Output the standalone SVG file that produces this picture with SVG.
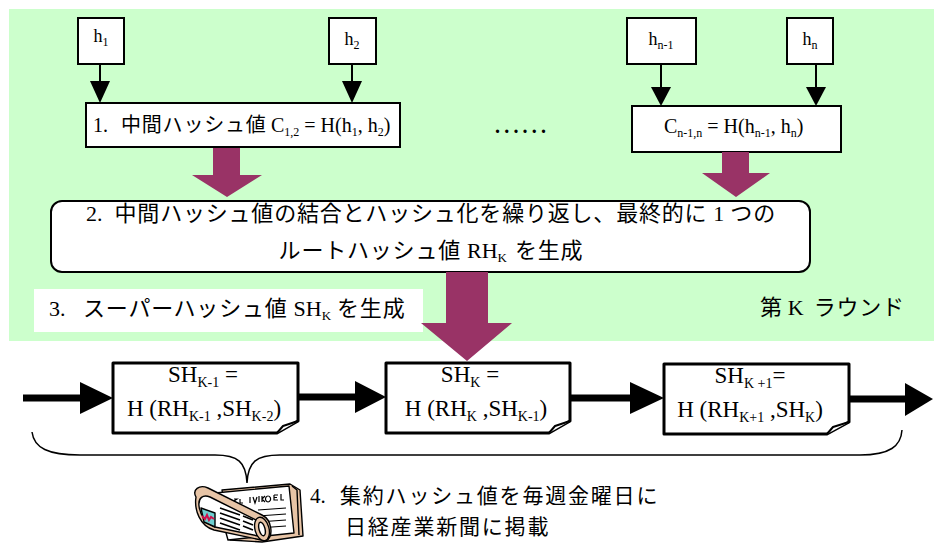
<svg xmlns="http://www.w3.org/2000/svg" width="934" height="544" viewBox="0 0 934 544">
  <defs>
    <style>
      text { font-family: "Liberation Serif", "Times New Roman", serif; fill: #000; }
      .jp { font-family: "Noto Sans CJK JP", "Noto Sans CJK SC", sans-serif; letter-spacing: 0.8px; }
      .jpw { letter-spacing: 1.8px; }
      .t18 { font-size: 18px; }
      .t20 { font-size: 20px; }
      .t21 { font-size: 21px; }
      .t22 { font-size: 22px; }
      .t23 { font-size: 23px; }
      .s12 { font-size: 12px; }
      .s13 { font-size: 13px; }
      .s14 { font-size: 14px; }
      .box { fill: #fff; stroke: #000; stroke-width: 2; }
      .page { fill: #fff; stroke: #000; stroke-width: 3; stroke-linejoin: round; }
      .fold { fill: #fff; stroke: #000; stroke-width: 2; stroke-linejoin: round; }
      .thin { stroke: #000; stroke-width: 2; fill: none; }
      .thick { stroke: #000; stroke-width: 7; fill: none; }
      .head { fill: #000; }
      .big { fill: #993366; }
      .nb { stroke: #000; stroke-width: 1.4; stroke-linejoin: round; }
    </style>
  </defs>

  <!-- round K background -->
  <rect x="9" y="9" width="925" height="332" fill="#ccffcc"/>

  <!-- leaf hashes -->
  <g id="h1">
    <rect class="box" x="78" y="18" width="46" height="46"/>
    <text class="t18" x="101" y="42" text-anchor="middle">h<tspan class="s12" dy="4">1</tspan></text>
  </g>
  <g id="h2">
    <rect class="box" x="329" y="18" width="47" height="46"/>
    <text class="t18" x="352" y="45" text-anchor="middle">h<tspan class="s12" dy="4">2</tspan></text>
  </g>
  <g id="hn1">
    <rect class="box" x="627" y="18" width="69" height="46"/>
    <text class="t18" x="661" y="45" text-anchor="middle">h<tspan class="s12" dy="4">n-1</tspan></text>
  </g>
  <g id="hn">
    <rect class="box" x="787" y="18" width="46" height="46"/>
    <text class="t18" x="810" y="45" text-anchor="middle">h<tspan class="s12" dy="4">n</tspan></text>
  </g>

  <!-- intermediate hashes -->
  <g id="c12">
    <rect class="box" x="86" y="103" width="314" height="44"/>
    <text class="t20" x="93" y="132">1.<tspan class="jp" x="121">中間ハッシュ値</tspan><tspan x="271">C</tspan><tspan class="s12" dy="4">1,2</tspan><tspan dy="-4"> = H(h</tspan><tspan class="s12" dy="4">1</tspan><tspan dy="-4">, h</tspan><tspan class="s12" dy="4">2</tspan><tspan dy="-4">)</tspan></text>
  </g>
  <g id="dots">
    <text class="t20" x="495" y="133" font-weight="bold" letter-spacing="4.2">......</text>
  </g>
  <g id="cn">
    <rect class="box" x="632" y="106" width="209" height="46"/>
    <text class="t20" x="664" y="133">C<tspan class="s12" dy="4">n-1,n</tspan><tspan dy="-4"> = H(h</tspan><tspan class="s12" dy="4">n-1</tspan><tspan dy="-4">, h</tspan><tspan class="s12" dy="4">n</tspan><tspan dy="-4">)</tspan></text>
  </g>

  <!-- root hash step -->
  <g id="root">
    <rect class="box" x="51" y="201" width="759" height="71" rx="11" ry="11"/>
    <text class="t22" x="431" y="221" text-anchor="middle">2.<tspan class="jp" dx="12">中間ハッシュ値の結合とハッシュ化を繰り返し、最終的に</tspan><tspan dx="6">1</tspan><tspan class="jp" dx="6">つの</tspan></text>
    <text class="t22" x="431" y="258" text-anchor="middle"><tspan class="jp">ルートハッシュ値</tspan><tspan dx="6">RH</tspan><tspan class="s13" dy="4">K</tspan><tspan class="jp" dy="-4" dx="8">を生成</tspan></text>
  </g>

  <!-- super hash label -->
  <g id="label3">
    <rect x="34" y="289" width="389" height="43" fill="#fff"/>
    <text class="t22" x="49" y="316">3.<tspan class="jp" x="83">スーパーハッシュ値</tspan><tspan dx="6">SH</tspan><tspan class="s13" dy="4">K</tspan><tspan class="jp" dy="-4" dx="6">を生成</tspan></text>
  </g>

  <g id="round">
    <text class="t22" x="760" y="315"><tspan class="jp">第</tspan><tspan dx="5">K</tspan><tspan class="jp" dx="10">ラウンド</tspan></text>
  </g>

  <!-- super hash chain -->
  <g id="shk1">
    <path class="page" d="M113,363 H298 V421 L277,433 H113 Z"/>
    <path class="fold" d="M277,433 L283,426 L298,421"/>
    <text class="t23" x="203" y="382" text-anchor="middle">SH<tspan class="s14" dy="5">K-1</tspan><tspan dy="-5"> =</tspan></text>
    <text class="t23" x="204" y="416" text-anchor="middle">H (RH<tspan class="s14" dy="5">K-1</tspan><tspan dy="-5"> ,SH</tspan><tspan class="s14" dy="5">K-2</tspan><tspan dy="-5">)</tspan></text>
  </g>
  <g id="shk">
    <path class="page" d="M386,363 H570 V421 L549,433 H386 Z"/>
    <path class="fold" d="M549,433 L555,426 L570,421"/>
    <text class="t23" x="470" y="382" text-anchor="middle">SH<tspan class="s14" dy="5">K</tspan><tspan dy="-5"> =</tspan></text>
    <text class="t23" x="476" y="416" text-anchor="middle">H (RH<tspan class="s14" dy="5">K</tspan><tspan dy="-5"> ,SH</tspan><tspan class="s14" dy="5">K-1</tspan><tspan dy="-5">)</tspan></text>
  </g>
  <g id="shk2">
    <path class="page" d="M664,364 H849 V422 L827,434 H664 Z"/>
    <path class="fold" d="M827,434 L833,427 L849,422"/>
    <text class="t23" x="750" y="383" text-anchor="middle">SH<tspan class="s14" dy="5">K +1</tspan><tspan dy="-5">=</tspan></text>
    <text class="t23" x="750" y="417" text-anchor="middle">H (RH<tspan class="s14" dy="5">K+1</tspan><tspan dy="-5"> ,SH</tspan><tspan class="s14" dy="5">K</tspan><tspan dy="-5">)</tspan></text>
  </g>

  <!-- weekly publication -->
  <g id="paper">
    <!-- back stack of pages -->
    <path class="nb" fill="#e7c4a6" d="M222,490 L290,484 L300,490 L303,536 L262,542 L230,540 Z"/>
    <path class="nb" fill="none" d="M292,486 L297,490 L299,535"/>
    <path class="nb" fill="#fff" d="M215,493 L289,486 L294,533 L228,540 Z"/>
    <g stroke="#000" stroke-width="1.2" fill="none">
      <path d="M228,500 L228,505 M231,499 L232,504 M234,499 l3,0 l-3,2 l3,3 M240,499 l0,4 l3,0"/>
      <path d="M250,497 l0,6 M253,497 l2,6 l2,-6 M259,496 l0,6 M262,496 l0,6 M262,499 l3,-3 M262,499 l3,3 M268,496 a2.5,3 0 1 0 0.1,0 M274,495 l4,0 M274,495 l0,5 l4,0 M274,497.5 l3,0 M281,494 l0,6 l3,0"/>
      <path d="M258,510 l28,-2 M258,516 l28,-2 M258,522 l28,-2 M258,528 l28,-2"/>
    </g>
    <!-- rolled paper -->
    <path class="nb" fill="#e7c4a6" d="M196,497 C192,490 199,484 208,488 L262,515 C272,520 274,536 266,541 L214,530 C200,526 194,510 196,497 Z"/>
    <path class="nb" fill="#fff" d="M199,506 C198,498 203,494 210,497 L258,521 C262,524 262,533 258,536 L215,527 C206,523 200,515 199,506 Z"/>
    <path class="nb" fill="#6ecfd0" d="M201,508 L215,513 L215,527 L204,522 Z"/>
    <path d="M202,516 l3,3 l2,-4 l2,5 l2,-3 l3,2" stroke="#d0104c" stroke-width="2" fill="none"/>
    <g stroke="#000" stroke-width="1.6">
      <path d="M220,508 l20,7 M220,513 l20,7 M220,518 l20,7 M220,523 l20,7 M243,516 l10,4 M243,521 l10,4 M243,526 l10,4"/>
    </g>
    <ellipse class="nb" fill="#e7c4a6" cx="262" cy="529" rx="7" ry="12" transform="rotate(-15 262 529)"/>
    <ellipse class="nb" fill="#fff" cx="262" cy="529" rx="3" ry="7" transform="rotate(-15 262 529)"/>
  </g>
  <g id="label4">
    <text class="t21" x="310" y="503">4.<tspan class="jp jpw" x="340">集約ハッシュ値を毎週金曜日に</tspan></text>
    <text class="t21 jp jpw" x="345" y="534">日経産業新聞に掲載</text>
  </g>

  <!-- connectors -->
  <g id="connectors">
    <!-- leaves into intermediate hashes -->
    <line class="thin" x1="100" y1="64" x2="100" y2="84"/>
    <polygon class="head" points="90,81 110,81 100,103"/>
    <line class="thin" x1="352" y1="64" x2="352" y2="84"/>
    <polygon class="head" points="342,81 362,81 352,103"/>
    <line class="thin" x1="661" y1="64" x2="661" y2="90"/>
    <polygon class="head" points="651,87 671,87 661,106"/>
    <line class="thin" x1="816" y1="64" x2="816" y2="90"/>
    <polygon class="head" points="806,87 826,87 816,106"/>

    <!-- block arrows -->
    <polygon class="big" points="213,148 240,148 240,175 262,175 227,197 192,175 213,175"/>
    <polygon class="big" points="722,152 749,152 749,173 770,173 736,197 702,173 722,173"/>
    <polygon class="big" points="446,272 488,272 488,323 512,323 467,361 421,323 446,323"/>

    <!-- chain -->
    <line class="thick" x1="23" y1="398" x2="84" y2="398"/>
    <polygon class="head" points="80,382 113,398 80,414"/>
    <line class="thick" x1="298" y1="397" x2="359" y2="397"/>
    <polygon class="head" points="355,381 386,397 355,413"/>
    <line class="thick" x1="570" y1="398" x2="634" y2="398"/>
    <polygon class="head" points="630,382 664,398 630,414"/>
    <line class="thick" x1="849" y1="399" x2="909" y2="399"/>
    <polygon class="head" points="905,383 933,399 905,416"/>

    <!-- brace over the published weeks -->
    <path d="M32,432 C34,448 48,455 80,455 L215,455 C238,455 246,462 247,483 C248,462 256,455 280,455 L860,455 C890,455 901,446 902,430" fill="none" stroke="#000" stroke-width="1.5"/>
  </g>
</svg>
